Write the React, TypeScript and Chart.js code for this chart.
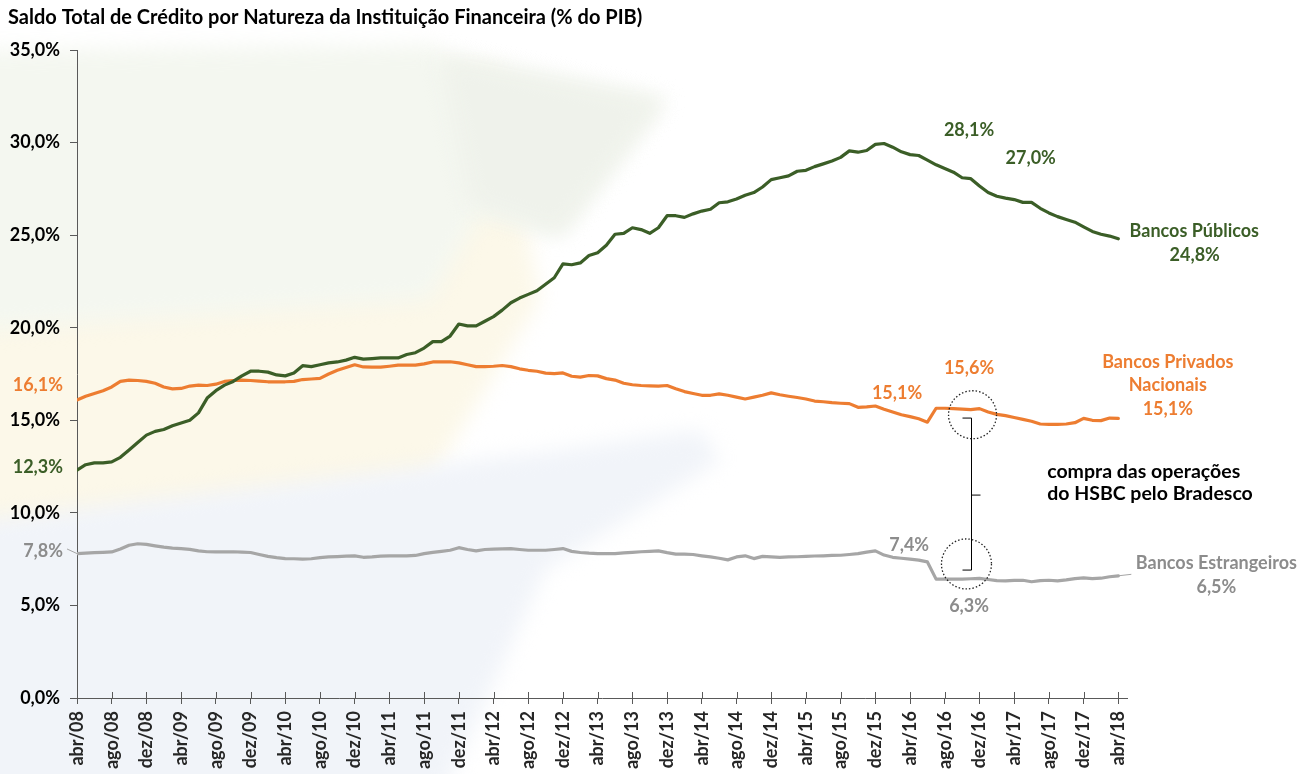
import React, { useEffect, useRef } from 'react';
import { Chart, registerables } from 'chart.js';
Chart.register(...registerables);

const tickLabels = [
  'abr/08', 'ago/08', 'dez/08', 'abr/09', 'ago/09', 'dez/09', 'abr/10', 'ago/10', 'dez/10',
  'abr/11', 'ago/11', 'dez/11', 'abr/12', 'ago/12', 'dez/12', 'abr/13', 'ago/13', 'dez/13',
  'abr/14', 'ago/14', 'dez/14', 'abr/15', 'ago/15', 'dez/15', 'abr/16', 'ago/16', 'dez/16',
  'abr/17', 'ago/17', 'dez/17', 'abr/18',
];
const MONTHS_PER_TICK = 4;

const bancosPublicos = [
  12.3, 12.6, 12.7, 12.7, 12.75, 13.0, 13.4, 13.8, 14.2, 14.4,
  14.5, 14.7, 14.85, 15.0, 15.4, 16.2, 16.6, 16.9, 17.1, 17.4,
  17.65, 17.65, 17.6, 17.45, 17.4, 17.55, 17.95, 17.9, 18.0, 18.1,
  18.15, 18.25, 18.4, 18.3, 18.33, 18.37, 18.37, 18.37, 18.55, 18.65,
  18.9, 19.25, 19.25, 19.55, 20.2, 20.1, 20.1, 20.35, 20.6, 20.95,
  21.35, 21.6, 21.8, 22.0, 22.35, 22.7, 23.45, 23.4, 23.5, 23.9,
  24.05, 24.45, 25.05, 25.1, 25.4, 25.3, 25.1, 25.4, 26.05, 26.05,
  25.96, 26.15, 26.3, 26.4, 26.75, 26.8, 26.95, 27.15, 27.3, 27.6,
  28.0, 28.1, 28.2, 28.45, 28.5, 28.7, 28.85, 29.0, 29.2, 29.55,
  29.48, 29.57, 29.9, 29.95, 29.75, 29.5, 29.35, 29.3, 29.05, 28.8,
  28.6, 28.4, 28.1, 28.05, 27.65, 27.3, 27.1, 27.0, 26.92, 26.77,
  26.77, 26.45, 26.2, 26.0, 25.85, 25.7, 25.45, 25.2, 25.05, 24.95,
  24.8,
];

const bancosPrivados = [
  16.1, 16.3, 16.45, 16.6, 16.8, 17.1, 17.17, 17.15, 17.1, 17.0,
  16.8, 16.7, 16.72, 16.85, 16.9, 16.88, 16.95, 17.1, 17.15, 17.17,
  17.15, 17.12, 17.08, 17.08, 17.08, 17.1, 17.2, 17.23, 17.26, 17.5,
  17.7, 17.85, 18.0, 17.88, 17.87, 17.87, 17.92, 17.98, 17.98, 17.98,
  18.05, 18.15, 18.16, 18.16, 18.1, 18.0, 17.9, 17.9, 17.92, 17.96,
  17.9, 17.78, 17.7, 17.65, 17.55, 17.52, 17.56, 17.38, 17.33, 17.42,
  17.4, 17.25, 17.17, 17.0, 16.92, 16.88, 16.86, 16.85, 16.88, 16.7,
  16.55, 16.45, 16.35, 16.35, 16.43, 16.35, 16.25, 16.15, 16.25, 16.35,
  16.48, 16.38, 16.3, 16.23, 16.15, 16.04, 16.0, 15.95, 15.92, 15.9,
  15.7, 15.72, 15.77, 15.6, 15.45, 15.3, 15.2, 15.08, 14.9, 15.65,
  15.65, 15.63, 15.6, 15.58, 15.63, 15.45, 15.32, 15.25, 15.15, 15.05,
  14.95, 14.8, 14.78, 14.78, 14.8, 14.87, 15.1, 15.0, 14.98, 15.12,
  15.1,
];

const bancosEstrangeiros = [
  7.8, 7.82, 7.85, 7.87, 7.89, 8.05, 8.25, 8.33, 8.3, 8.22,
  8.15, 8.1, 8.07, 8.03, 7.95, 7.9, 7.89, 7.89, 7.9, 7.88,
  7.86, 7.75, 7.65, 7.58, 7.53, 7.52, 7.5, 7.52, 7.58, 7.62,
  7.64, 7.66, 7.68, 7.6, 7.62, 7.66, 7.68, 7.68, 7.68, 7.7,
  7.8, 7.87, 7.92, 7.98, 8.12, 8.02, 7.95, 8.02, 8.04, 8.05,
  8.07, 8.02, 7.98, 7.98, 7.98, 8.02, 8.07, 7.92, 7.86, 7.82,
  7.8, 7.8, 7.8, 7.84, 7.87, 7.9, 7.92, 7.95, 7.85, 7.77,
  7.77, 7.75, 7.68, 7.62, 7.55, 7.46, 7.62, 7.68, 7.53, 7.65,
  7.62, 7.6, 7.62, 7.63, 7.65, 7.67, 7.68, 7.7, 7.71, 7.75,
  7.8, 7.88, 7.95, 7.72, 7.6, 7.55, 7.5, 7.45, 7.35, 6.42,
  6.42, 6.42, 6.42, 6.44, 6.46, 6.4, 6.34, 6.33, 6.35, 6.36,
  6.28, 6.34, 6.36, 6.33, 6.38, 6.45, 6.49, 6.45, 6.47, 6.55,
  6.6,
];

const GREEN = '#3B5E27';
const ORANGE = '#ED7D31';
const GRAY_LINE = '#A6A6A6';
const GRAY_TEXT = '#8C8C8C';
const FONT = 'Lato';

const TITLE = 'Saldo Total de Crédito por Natureza da Instituição Financeira (% do PIB)';

// text annotations anchored in data space: [text, monthIndex, value, color, align, size]
const annotations: [string, number, number, string, CanvasTextAlign, number][] = [
  ['28,1%', 102.8, 30.68, GREEN, 'center', 18],
  ['27,0%', 109.9, 29.15, GREEN, 'center', 18],
  ['Bancos Públicos', 121.3, 25.22, GREEN, 'left', 18],
  ['24,8%', 128.8, 23.93, GREEN, 'center', 18],
  ['15,6%', 102.8, 17.82, ORANGE, 'center', 18],
  ['15,1%', 94.5, 16.47, ORANGE, 'center', 18],
  ['Bancos Privados', 125.7, 18.15, ORANGE, 'center', 18],
  ['Nacionais', 125.7, 16.9, ORANGE, 'center', 18],
  ['15,1%', 125.7, 15.6, ORANGE, 'center', 18],
  ['7,4%', 95.9, 8.26, GRAY_TEXT, 'center', 18],
  ['6,3%', 102.8, 4.97, GRAY_TEXT, 'center', 18],
  ['Bancos Estrangeiros', 131.3, 7.29, GRAY_TEXT, 'center', 18],
  ['6,5%', 131.3, 6.0, GRAY_TEXT, 'center', 18],
  ['compra das operações', 111.8, 12.2, '#000000', 'left', 19.5],
  ['do HSBC pelo Bradesco', 111.8, 11.02, '#000000', 'left', 19.5],
];

// start-value labels drawn in the y-axis area: [text, value, color]
const startLabels: [string, number, string][] = [
  ['16,1%', 16.9, ORANGE],
  ['12,3%', 12.45, GREEN],
  ['7,8%', 7.95, GRAY_TEXT],
];

const toXY = (arr: number[]) => arr.map((v, i) => ({ x: i, y: v }));

const decorPlugin = {
  id: 'decor',
  beforeDraw(chart: any) {
    const ctx = chart.ctx as CanvasRenderingContext2D;
    ctx.save();
    ctx.fillStyle = '#ffffff';
    ctx.fillRect(0, 0, chart.width, chart.height);
    ctx.filter = 'blur(10px)';
    const poly = (pts: number[][], color: string) => {
      ctx.beginPath();
      pts.forEach((p, i) => (i ? ctx.lineTo(p[0], p[1]) : ctx.moveTo(p[0], p[1])));
      ctx.closePath();
      ctx.fillStyle = color;
      ctx.fill();
    };
    poly([[-20, 70], [500, 70], [540, 300], [430, 480], [-20, 560]], '#FCF8E9');
    poly([[-20, 50], [440, 45], [440, 55], [665, 100], [560, 235], [480, 215], [430, 300], [-20, 330]], '#F4F7F0');
    poly([[440, 55], [665, 100], [560, 235], [470, 205]], '#EFF2EB');
    poly([[-20, 520], [560, 450], [700, 430], [720, 460], [545, 570], [440, 800], [-20, 800]], '#F1F4F9');
    ctx.filter = 'none';
    ctx.restore();
  },
  afterDraw(chart: any) {
    const ctx = chart.ctx as CanvasRenderingContext2D;
    const xs = chart.scales.x;
    const ys = chart.scales.y;
    const area = chart.chartArea;
    ctx.save();
    // title
    ctx.font = `bold 20px ${FONT}`;
    ctx.fillStyle = '#000';
    ctx.textAlign = 'left';
    ctx.textBaseline = 'middle';
    ctx.fillText(TITLE, 8, 18);

    // inner half of x-axis tick marks
    ctx.strokeStyle = '#595959';
    ctx.lineWidth = 1;
    tickLabels.forEach((_, k) => {
      const px = Math.round(xs.getPixelForValue(k * MONTHS_PER_TICK)) + 0.5;
      ctx.beginPath();
      ctx.moveTo(px, area.bottom - 6);
      ctx.lineTo(px, area.bottom);
      ctx.stroke();
    });

    // annotations
    annotations.forEach(([t, ix, v, c, al, sz]) => {
      ctx.font = `bold ${sz}px ${FONT}`;
      ctx.fillStyle = c;
      ctx.textAlign = al;
      ctx.fillText(t, xs.getPixelForValue(ix), ys.getPixelForValue(v));
    });
    ctx.font = `bold 18px ${FONT}`;
    startLabels.forEach(([t, v, c]) => {
      ctx.fillStyle = c;
      ctx.textAlign = 'right';
      ctx.fillText(t, area.left - 14, ys.getPixelForValue(v));
    });
    // leader for 7,8%
    ctx.strokeStyle = GRAY_LINE;
    ctx.beginPath();
    ctx.moveTo(area.left - 10, ys.getPixelForValue(8.05));
    ctx.lineTo(area.left, ys.getPixelForValue(bancosEstrangeiros[0]));
    ctx.stroke();
    // leader for Bancos Estrangeiros
    const last = bancosEstrangeiros.length - 1;
    ctx.beginPath();
    ctx.moveTo(xs.getPixelForValue(last), ys.getPixelForValue(bancosEstrangeiros[last]));
    ctx.lineTo(xs.getPixelForValue(last + 1.5), ys.getPixelForValue(bancosEstrangeiros[last] + 0.08));
    ctx.stroke();

    // dotted circles
    ctx.strokeStyle = '#222';
    ctx.lineWidth = 1.3;
    ctx.setLineDash([1.5, 2]);
    [[103.2, 15.3, 24], [102.5, 7.24, 25]].forEach(([ix, v, r]) => {
      ctx.beginPath();
      ctx.arc(xs.getPixelForValue(ix), ys.getPixelForValue(v), r, 0, Math.PI * 2);
      ctx.stroke();
    });
    ctx.setLineDash([]);

    // brace
    const bx = Math.round(xs.getPixelForValue(103.0)) + 0.5;
    const yT = ys.getPixelForValue(15.12);
    const yB = ys.getPixelForValue(6.91);
    const yM = ys.getPixelForValue(10.96);
    ctx.strokeStyle = '#000';
    ctx.lineWidth = 1;
    ctx.beginPath();
    ctx.moveTo(bx - 9, yT);
    ctx.lineTo(bx, yT);
    ctx.lineTo(bx, yB);
    ctx.lineTo(bx - 9, yB);
    ctx.moveTo(bx, yM);
    ctx.lineTo(bx + 9, yM);
    ctx.stroke();
    ctx.restore();
  },
};

export default function App() {
  const ref = useRef<HTMLCanvasElement>(null);
  useEffect(() => {
    if (!ref.current) return;
    const chart = new Chart(ref.current, {
      type: 'line',
      data: {
        datasets: [
          { label: 'Bancos Públicos', data: toXY(bancosPublicos), borderColor: GREEN, borderWidth: 3.2 },
          { label: 'Bancos Privados Nacionais', data: toXY(bancosPrivados), borderColor: ORANGE, borderWidth: 3.2 },
          { label: 'Bancos Estrangeiros', data: toXY(bancosEstrangeiros), borderColor: GRAY_LINE, borderWidth: 3.2 },
        ],
      },
      options: {
        animation: false,
        responsive: false,
        devicePixelRatio: 1,
        layout: { padding: { top: 50, right: 176, left: 0, bottom: 0 } },
        elements: {
          point: { radius: 0 },
          line: { tension: 0, borderJoinStyle: 'round', borderCapStyle: 'round' },
        },
        plugins: { legend: { display: false }, tooltip: { enabled: false }, title: { display: false } },
        scales: {
          x: {
            type: 'linear',
            min: 0,
            max: 121,
            afterFit: (s: any) => { s.height = 76; },
            afterBuildTicks: (s: any) => {
              s.ticks = tickLabels.map((_, k) => ({ value: k * MONTHS_PER_TICK }));
            },
            grid: { drawOnChartArea: false, drawTicks: true, tickLength: 6, color: '#595959' },
            border: { display: true, color: '#595959', width: 1 },
            ticks: {
              autoSkip: false,
              maxRotation: 90,
              minRotation: 90,
              padding: 7,
              color: '#262626',
              font: { family: FONT, weight: 'bold', size: 18 },
              callback: (v: any) => tickLabels[Math.round(Number(v) / MONTHS_PER_TICK)] ?? '',
            },
          },
          y: {
            min: 0,
            max: 35,
            afterFit: (s: any) => { s.width = 77; },
            grid: { drawOnChartArea: false, drawTicks: true, tickLength: 7, color: '#595959' },
            border: { display: true, color: '#595959', width: 1 },
            ticks: {
              stepSize: 5,
              padding: 10,
              color: '#000',
              font: { family: FONT, weight: 'bold', size: 18 },
              callback: (v: any) => Number(v).toFixed(1).replace('.', ',') + '%',
            },
          },
        },
      },
      plugins: [decorPlugin],
    } as any);
    return () => chart.destroy();
  }, []);
  return (
    <div style={{ position: 'fixed', left: 0, top: 0, width: 1303, height: 774 }}>
      <canvas ref={ref} width={1303} height={774} style={{ width: 1303, height: 774, display: 'block' }} />
    </div>
  );
}
